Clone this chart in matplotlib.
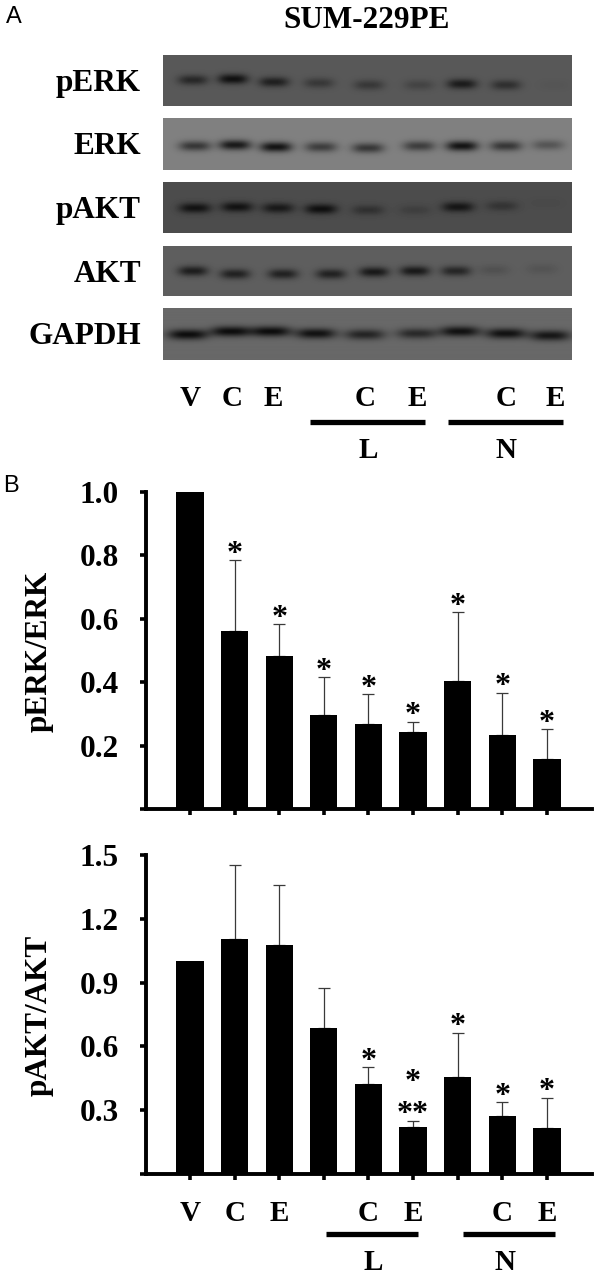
import numpy as np
import matplotlib
matplotlib.use("Agg")
import matplotlib.pyplot as plt

W, H = 600, 1278
plt.rcParams["font.family"] = ["Liberation Serif", "DejaVu Serif"]
plt.rcParams["font.weight"] = "bold"
plt.rcParams["axes.labelweight"] = "bold"

# western blot panel: band darkness per lane, read by eye
blot_names = ["pERK", "ERK", "pAKT", "AKT", "GAPDH"]
blot_bg = [88, 128, 76, 94, 104]
pERK_dark = [.60, .90, .70, .40, .40, .25, .75, .50, .04]
ERK_dark = [.60, .85, .90, .55, .60, .55, .90, .60, .35]
pAKT_dark = [.85, .85, .75, .90, .40, .20, .80, .35, .04]
AKT_dark = [.75, .70, .70, .70, .80, .80, .65, .15, .12]
GAPDH_dark = [.95, .95, .95, .90, .70, .65, .90, .90, .85]
blot_dark = [pERK_dark, ERK_dark, pAKT_dark, AKT_dark, GAPDH_dark]

# bar data
lanes = ["V", "C", "E", "", "C", "E", "", "C", "E"]
perk_vals = [1.0, .56, .483, .295, .268, .242, .403, .235, .159]
perk_tops = [1.0, .785, .583, .415, .362, .276, .62, .366, .252]
perk_stars = ["", "*", "*", "*", "*", "*", "*", "*", "*"]
akt_vals = [1.0, 1.106, 1.076, .688, .424, .22, .455, .273, .218]
akt_tops = [1.0, 1.451, 1.36, .873, .501, .251, .663, .338, .357]
akt_stars = ["", "", "", "", "*", "**", "*", "*", "*"]
perk_ticks = [.2, .4, .6, .8, 1.0]
akt_ticks = [.3, .6, .9, 1.2, 1.5]

# layout in picture pixels
blot_boxes = [(55, 106), (118, 170), (182, 233), (246, 296), (308, 360)]
blot_left, blot_right = 163, 572
band_x = [[193, 233, 274, 319, 369, 419, 462, 506, 554],
          [195, 235, 276, 321, 368, 419, 462, 506, 548],
          [195, 237, 278, 321, 368, 415, 458, 502, 546],
          [193, 235, 283, 331, 374, 415, 456, 494, 542],
          [188, 231, 271, 316, 365, 417, 460, 506, 550]]
band_y = [[80, 79, 82, 83, 85, 85, 84, 85, 85],
          [146, 145, 147, 147, 148, 146, 146, 146, 145],
          [208, 207, 208, 209, 210, 210, 207, 206, 203],
          [271, 274, 274, 274, 272, 271, 271, 270, 269],
          [335, 332, 332, 334, 335, 334, 332, 334, 336]]
band_w = [15, 16, 16, 15, 20]
label_right = 141
fs_big = 22.5
fs_lane = 21
fs_star = 23

fig = plt.figure(figsize=(W / 100, H / 100), dpi=100, facecolor="white")


def px_axes(left, top, right, bottom):
    return fig.add_axes([left / W, 1 - bottom / H, (right - left) / W, (bottom - top) / H])


def px_text(x, y, s, **kw):
    kw.setdefault("ha", "center")
    kw.setdefault("va", "center")
    kw.setdefault("fontsize", fs_lane)
    fig.text(x / W, 1 - y / H, s, **kw)


def px_line(x0, x1, y, lw=3.6):
    fig.add_artist(plt.Line2D([x0 / W, x1 / W], [1 - y / H, 1 - y / H], color="black",
                              lw=lw, solid_capstyle="butt"))


def draw_blot(i):
    top, bottom = blot_boxes[i]
    xx, yy = np.meshgrid(np.arange(blot_left, blot_right) + .5, np.arange(top, bottom) + .5)
    img = np.full(xx.shape, float(blot_bg[i]))
    for bx, by, d in zip(band_x[i], band_y[i], blot_dark[i]):
        shape = np.exp(-(np.abs(xx - bx) / band_w[i]) ** 3 - ((yy - by) / 5.0) ** 2)
        img -= shape * d * (blot_bg[i] - 8)
    ax = px_axes(blot_left, top, blot_right, bottom)
    ax.imshow(img, cmap="gray", vmin=0, vmax=255, aspect="auto")
    ax.axis("off")
    px_text(label_right, (top + bottom) / 2 + 3, blot_names[i], ha="right", fontsize=fs_big)


for i in range(len(blot_names)):
    draw_blot(i)

px_text(367, 20, "SUM-229PE", fontsize=22.5)
px_text(14, 17, "A", family="Liberation Sans", weight="normal", fontsize=17)
px_text(11, 486, "B", family="Liberation Sans", weight="normal", fontsize=17)

for x, s in zip([190, 232, 273, 365, 417, 506, 555], ["V", "C", "E", "C", "E", "C", "E"]):
    px_text(x, 398, s)
px_line(310, 425, 422, 3.8)
px_line(448, 563, 422, 3.8)
px_text(368, 450, "L")
px_text(506, 450, "N")


def bar_panel(top, bottom, vals, tops, stars, ticks, ylabel, ymax):
    ax = px_axes(146, top, 592, bottom)
    x = np.arange(len(vals))
    err = np.array(tops) - np.array(vals)
    ax.bar(x, vals, width=.61, color="black", zorder=3)
    ax.errorbar(x[1:], vals[1:], yerr=[np.zeros(len(x) - 1), err[1:]], fmt="none", ecolor="#3a3a3a",
                elinewidth=.9, capsize=4, capthick=.9, zorder=2)
    ax.set_xlim(-.987, 9.01)
    ax.set_ylim(0, ymax)
    for s in ["top", "right"]:
        ax.spines[s].set_visible(False)
    for s in ["left", "bottom"]:
        ax.spines[s].set_linewidth(2.8)
    ax.set_yticks([0] + ticks)
    ax.set_yticklabels([""] + [f"{t:.1f}" for t in ticks], fontsize=fs_big)
    ax.tick_params(axis="y", length=4.5, width=2.6, pad=15)
    ax.tick_params(axis="x", length=4, width=2.6, pad=15)
    ax.set_xticks(x)
    ax.set_xticklabels(lanes, fontsize=fs_lane)
    for xi, t, s in zip(x, tops, stars):
        if s:
            ax.annotate(s, (xi, t), xytext=(0, -1), textcoords="offset points", ha="center",
                        va="baseline", fontsize=fs_star, annotation_clip=False)
    ax.set_ylabel(ylabel, fontsize=fs_big)
    ax.yaxis.set_label_coords((54 - 146) / 446, .497)
    return ax


ax1 = bar_panel(492, 809, perk_vals, perk_tops, perk_stars, perk_ticks, "pERK/ERK", 1.0)
ax1.set_xticklabels([""] * len(lanes))
ax2 = bar_panel(855, 1174, akt_vals, akt_tops, akt_stars, akt_ticks, "pAKT/AKT", 1.5)
# the extra star sitting above the double one
ax2.annotate("*", (5, .487), xytext=(0, -14), textcoords="offset points", ha="center",
             va="baseline", fontsize=fs_star, annotation_clip=False)

px_line(326, 418, 1234, 3.8)
px_line(463, 555, 1234, 3.8)
px_text(373, 1262, "L")
px_text(505, 1262, "N")

fig.savefig("out.png", dpi=100, facecolor="white")
